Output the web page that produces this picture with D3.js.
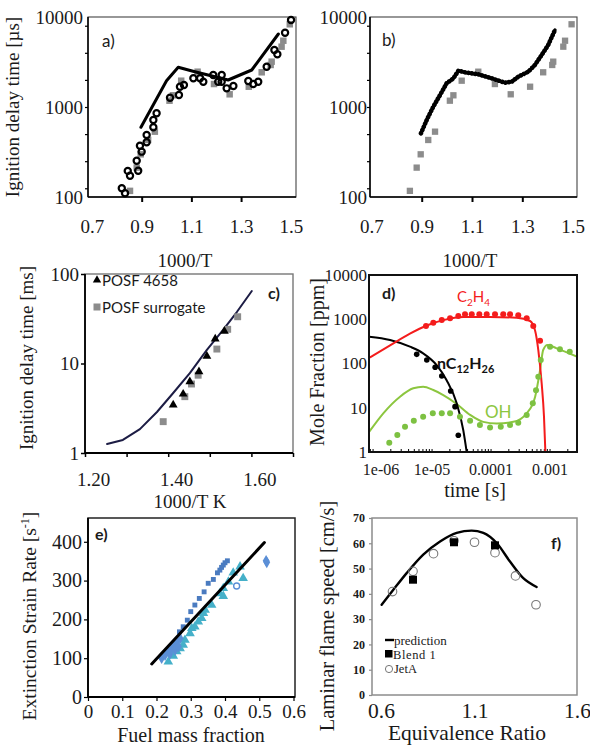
<!DOCTYPE html>
<html><head><meta charset="utf-8">
<script src="https://cdn.jsdelivr.net/npm/d3@7"></script>
<style>body{margin:0;background:#fff}svg{display:block}</style>
</head><body>
<script>
// ================= DATA =================
// a) and b): ignition delay time [µs] vs 1000/T
const abTickX = [0.7, 0.9, 1.1, 1.3, 1.5];
const abTickMarks = [0.9, 1.1, 1.3];
const abTickY = [100, 1000, 10000];
const abMinorY = [125, 250, 500, 1000, 2000, 4000, 8000];
// gray squares (experiment, both panels)
const expX = [0.853,0.880,0.896,0.926,0.953,1.012,1.026,1.059,1.125,1.191,1.254,1.331,1.383,1.419,1.423,1.463,1.470,1.496];
const expY = [117,212,298,430,532,1175,1349,1960,2467,1800,1384,1680,2430,2930,3190,4680,5450,8300];
// a) open circles
const aCircX = [0.820,0.833,0.844,0.853,0.880,0.886,0.893,0.900,0.920,0.920,0.947,0.947,0.960,1.014,1.050,1.054,1.070,1.108,1.135,1.148,1.188,1.208,1.222,1.222,1.242,1.269,1.329,1.349,1.369,1.403,1.434,1.446,1.477,1.501];
const aCircY = [125,110,195,172,253,196,371,319,489,405,595,717,851,1268,1360,1682,1756,2083,2083,1910,2268,1910,2268,1910,1612,1711,1945,1802,1910,2805,4300,3852,6693,9268];
// a) model line
const aModelX = [0.897,1.000,1.047,1.114,1.248,1.343,1.450];
const aModelY = [595,1960,2762,2467,1995,2577,6471];
// b) model (dense)
const bModelX = [0.897,0.920,0.946,0.973,0.999,1.026,1.046,1.072,1.125,1.178,1.231,1.258,1.284,1.324,1.350,1.377,1.403,1.430];
const bModelY = [510,717,1008,1360,1833,2083,2533,2427,2307,2083,1862,1910,2172,2467,2930,3780,4886,7170];

// c) ignition delay time [ms] vs 1000/T K
const cTickX = [1.2, 1.4, 1.6];
const cTickMarks = [1.2, 1.3, 1.4, 1.5, 1.6, 1.7];
const cTickY = [1, 10, 100];
const cLineX = [1.253,1.291,1.332,1.373,1.412,1.452,1.493,1.532,1.565,1.601];
const cLineY = [1.26,1.40,1.85,2.87,4.68,7.8,14.2,23.7,37.6,64.6];
const cPosfX = [1.412,1.436,1.452,1.474,1.493,1.513,1.535];
const cPosfY = [3.44,4.56,6.26,8.1,12.1,18.8,23.0];
const cSurX = [1.388,1.440,1.456,1.472,1.517,1.543,1.567];
const cSurY = [2.24,4.26,5.9,7.4,14.5,24.1,33.3];

// d) mole fraction [ppm] vs time [s]
const dTickX = [1e-6, 1e-5, 1e-4, 1e-3];
const dTickLabels = ['1e-06', '1e-05', '0.0001', '0.001'];
const dTickY = [1, 10, 100, 1000, 10000];
const c2h4LineX = [9.06e-7,1.98e-6,4.3e-6,8.3e-6,1.58e-5,3.45e-5,9.8e-5,2.77e-4,4.67e-4,5.67e-4,6.45e-4,7.36e-4,8.05e-4,8.5e-4];
const c2h4LineY = [138,257,473,724,955,1122,1122,1084,912,562,200,35,6.3,1];
const c2h4DotX = [8.05e-6,1.07e-5,1.49e-5,2.06e-5,2.84e-5,3.69e-5,4.8e-5,6.45e-5,8.6e-5,1.19e-4,1.64e-4,2.14e-4,2.95e-4,4.1e-4,5.3e-4,6.9e-4];
const c2h4DotY = [703,836,961,1050,1184,1294,1294,1294,1294,1294,1294,1294,1230,1050,703,327];
const dodLineX = [8.8e-7,1.98e-6,4.3e-6,7.2e-6,1.22e-5,1.8e-5,2.67e-5,3.45e-5,3.94e-5];
const dodLineY = [403,340,240,170,92,42,12.6,3.1,1];
const dodDotX = [5.6e-6,8.3e-6,1.15e-5,1.49e-5,2.11e-5,2.5e-5,2.84e-5];
const dodDotY = [161,120,82,52,24,10.6,2.4];
const ohLineX = [8.8e-7,1.52e-6,2.92e-6,4.9e-6,7.2e-6,1.07e-5,1.58e-5,2.67e-5,4.5e-5,7.5e-5,1.27e-4,2.43e-4,4.1e-4,5.7e-4,6.9e-4,7.8e-4,9.2e-4,1.32e-3,2.9e-3];
const ohLineY = [2.88,7.5,17.8,27.5,29.9,25.2,19.4,12.2,6.9,4.8,4.4,4.8,7.5,17.8,71,202,262,220,143];
const ohDotX = [1.92e-6,2.63e-6,3.55e-6,5.0e-6,7.2e-6,1.05e-5,1.49e-5,2.06e-5,3.03e-5,4.5e-5,6.6e-5,9.8e-5,1.49e-4,2.14e-4,2.95e-4,4.1e-4,5.2e-4,5.9e-4,6.45e-4,7.1e-4,1.02e-3,1.5e-3,2.2e-3];
const ohDotY = [1.62,2.42,3.73,5.1,6.3,7.5,7.5,7.5,6.3,5.1,4.1,3.6,3.73,4.1,4.6,6.9,12.6,25,50,120,240,210,185];

// e) extinction strain rate vs fuel mass fraction
const eTickX = [0, 0.1, 0.2, 0.3, 0.4, 0.5, 0.6];
const eTickY = [0, 100, 200, 300, 400];
const eLineX = [0.186, 0.515];
const eLineY = [85, 398];
const eSqX = [0.267,0.278,0.290,0.300,0.312,0.325,0.339,0.351,0.366,0.378,0.385,0.390,0.395,0.400,0.407];
const eSqY = [168,181,198,220,237,254,271,293,303,320,327,334,340,346,351];
const eTriX = [0.2345,0.249,0.259,0.269,0.278,0.283,0.298,0.303,0.312,0.322,0.332,0.337,0.342,0.361,0.385,0.395,0.410,0.424,0.444,0.395,0.453];
const eTriY = [91,106,117,125,134,147,164,177,181,194,203,216,224,237,267,280,297,320,336,260,306];
const eDiaX = [0.215,0.225,0.234,0.239,0.244,0.249,0.254,0.259,0.264,0.269,0.520,0.522];
const eDiaY = [100,108,117,111,125,134,121,143,130,151,351,347];
const eOpenX = [0.434];
const eOpenY = [286];

// f) laminar flame speed vs equivalence ratio
const fTickX = [0.6, 1.1, 1.6];
const fTickY = [0, 10, 20, 30, 40, 50, 60, 70];
const fPredX = [0.647,0.704,0.769,0.850,0.932,1.013,1.086,1.143,1.208,1.273,1.338,1.403];
const fPredY = [35.7,41.6,48.2,55.5,60.7,64.1,65.0,64.1,60.1,52.8,46.2,42.7];
const fBlendX = [0.80, 1.00, 1.20];
const fBlendY = [45.6, 60.4, 59.2];
const fJetX = [0.70, 0.80, 0.90, 1.00, 1.10, 1.20, 1.30, 1.40];
const fJetY = [40.9, 48.9, 55.9, 61.0, 60.4, 56.3, 47.1, 35.7];

// ================= DRAWING =================
const SERIF = '"Liberation Serif","Times New Roman",serif';
const SANS = 'Lato,"Open Sans",sans-serif';
const svg = d3.select('body').append('svg').attr('width', 590).attr('height', 746);

function rect(x0, y0, x1, y1, stroke, sw) {
  svg.append('rect').attr('x', x0).attr('y', y0).attr('width', x1 - x0).attr('height', y1 - y0)
    .attr('fill', 'none').attr('stroke', stroke).attr('stroke-width', sw);
}
function hline(x0, x1, y, stroke, sw) {
  svg.append('line').attr('x1', x0).attr('x2', x1).attr('y1', y).attr('y2', y).attr('stroke', stroke).attr('stroke-width', sw);
}
function vline(x, y0, y1, stroke, sw) {
  svg.append('line').attr('x1', x).attr('x2', x).attr('y1', y0).attr('y2', y1).attr('stroke', stroke).attr('stroke-width', sw);
}
function axis(gen, tx, ty, fs, opts) {
  opts = opts || {};
  const g = svg.append('g').attr('transform', `translate(${tx},${ty})`).call(gen)
    .attr('font-family', SERIF).attr('font-size', fs);
  g.select('.domain').remove();
  g.selectAll('line').attr('stroke', opts.tickColor || '#000').attr('stroke-width', opts.tickWidth || 1.2);
  g.selectAll('text').attr('font-family', SERIF).attr('font-size', fs).attr('fill', opts.color || '#1a1a1a')
    .attr('font-weight', opts.weight || 'normal');
  return g;
}
function pts(xs, ys) { return xs.map((x, i) => [x, ys[i]]); }
function line(xs, ys, X, Y, color, w, curve, clip) {
  const p = svg.append('path').datum(pts(xs, ys))
    .attr('d', d3.line().x(d => X(d[0])).y(d => Y(d[1])).curve(curve || d3.curveLinear))
    .attr('fill', 'none').attr('stroke', color).attr('stroke-width', w)
    .attr('stroke-linejoin', 'round').attr('stroke-linecap', 'round');
  if (clip) p.attr('clip-path', clip);
  return p;
}
function syms(xs, ys, X, Y, type, size, fill, stroke, sw) {
  svg.append('g').selectAll('path').data(pts(xs, ys)).join('path')
    .attr('transform', d => `translate(${X(d[0])},${Y(d[1])})`)
    .attr('d', d3.symbol().type(type).size(size))
    .attr('fill', fill).attr('stroke', stroke || 'none').attr('stroke-width', sw || 0);
}
function circles(xs, ys, X, Y, r, fill, stroke, sw) {
  svg.append('g').selectAll('circle').data(pts(xs, ys)).join('circle')
    .attr('cx', d => X(d[0])).attr('cy', d => Y(d[1])).attr('r', r)
    .attr('fill', fill).attr('stroke', stroke || 'none').attr('stroke-width', sw || 0);
}
function text(x, y, s, fs, opts) {
  opts = opts || {};
  return svg.append('text').attr('x', x).attr('y', y).text(s)
    .attr('font-family', opts.family || SERIF).attr('font-size', fs)
    .attr('fill', opts.color || '#1a1a1a').attr('font-weight', opts.weight || 'normal')
    .attr('text-anchor', opts.anchor || 'start');
}
function ylabel(x, y, s, fs) {
  return svg.append('text').attr('transform', `translate(${x},${y}) rotate(-90)`)
    .attr('text-anchor', 'middle').attr('font-family', SERIF).attr('font-size', fs)
    .attr('fill', '#1a1a1a').text(s);
}

// ---------- panel a ----------
{
  const X = d3.scaleLinear().domain([0.684, 1.521]).range([88, 296]);
  const Y = d3.scaleLog().domain([100, 10000]).range([197, 17]);
  rect(88, 17, 296, 197, '#444', 1.1);
  vline(88, 17, 197, '#000', 1.5); hline(88, 296, 197, '#000', 1.5);
  axis(d3.axisBottom(X).tickValues(abTickMarks).tickSize(5).tickFormat(''), 0, 197, 19, {tickWidth: 2});
  axis(d3.axisBottom(X).tickValues(abTickX).tickSize(0).tickPadding(23).tickFormat(d3.format('.1f')), 0, 197, 19);
  axis(d3.axisLeft(Y).tickValues(abMinorY).tickSize(3).tickFormat(''), 88, 0, 19);
  axis(d3.axisLeft(Y).tickValues(abTickY).tickSize(0).tickPadding(5).tickFormat(d3.format('d')), 88, 0, 19);
  syms(expX, expY, X, Y, d3.symbolSquare, 42, '#8c8c8c');
  line(aModelX, aModelY, X, Y, '#000', 3);
  circles(aCircX, aCircY, X, Y, 3.1, 'none', '#000', 2.2);
  text(102, 47, 'a)', 17, {family: SANS});
  ylabel(19, 107, 'Ignition delay time [µs]', 19);
  text(185, 267, '1000/T', 19, {anchor: 'middle'});
}
// ---------- panel b ----------
{
  const X = d3.scaleLinear().domain([0.6944, 1.5175]).range([370, 577]);
  const Y = d3.scaleLog().domain([100, 10000]).range([197, 17]);
  rect(370, 17, 577, 197, '#444', 1.1);
  vline(370, 17, 197, '#000', 1.5); hline(370, 577, 197, '#000', 1.5);
  axis(d3.axisBottom(X).tickValues(abTickMarks).tickSize(5).tickFormat(''), 0, 197, 19, {tickWidth: 2});
  axis(d3.axisBottom(X).tickValues(abTickX).tickSize(0).tickPadding(23).tickFormat(d3.format('.1f')), 0, 197, 19);
  axis(d3.axisLeft(Y).tickValues(abMinorY).tickSize(3).tickFormat(''), 370, 0, 19);
  axis(d3.axisLeft(Y).tickValues(abTickY).tickSize(0).tickPadding(3).tickFormat(d3.format('d')), 370, 0, 19);
  syms(expX, expY, X, Y, d3.symbolSquare, 40, '#8c8c8c');
  line(bModelX, bModelY, X, Y, '#000', 3.2);
  line(bModelX, bModelY, X, Y, '#000', 4.6).attr('stroke-dasharray', '0.1 3.4');
  text(382, 46, 'b)', 17, {family: SANS});
  text(470, 267, '1000/T', 19, {anchor: 'middle'});
}
// ---------- panel c ----------
{
  const X = d3.scaleLinear().domain([1.2, 1.7]).range([85, 293]);
  const Y = d3.scaleLog().domain([1, 100]).range([453, 274]);
  rect(85, 274, 293, 453, '#777', 1.4);
  vline(85, 274, 453, '#000', 1.8); hline(85, 293, 453, '#000', 1.8);
  axis(d3.axisBottom(X).tickValues(cTickMarks).tickSize(4).tickFormat(''), 0, 453, 19, {tickWidth: 1.5});
  axis(d3.axisBottom(X).tickValues(cTickX).tickSize(0).tickPadding(20).tickFormat(d3.format('.2f')), 0, 453, 19)
    .selectAll('text').attr('dx', 8);
  axis(d3.axisLeft(Y).tickValues(cTickY).tickSize(4).tickPadding(2).tickFormat(d3.format('d')), 85, 0, 19, {tickWidth: 1.5});
  line(cLineX, cLineY, X, Y, '#1c1c44', 2);
  syms(cSurX, cSurY, X, Y, d3.symbolSquare, 48, '#8c8c8c');
  syms(cPosfX, cPosfY, X, Y, d3.symbolTriangle, 34, '#000');
  // legend
  svg.append('path').attr('transform', 'translate(97,280)').attr('d', d3.symbol().type(d3.symbolTriangle).size(30)).attr('fill', '#000');
  svg.append('rect').attr('x', 93.5).attr('y', 303.5).attr('width', 7).attr('height', 7).attr('fill', '#8c8c8c');
  text(102, 286, 'POSF 4658', 15, {family: SANS});
  text(102, 313, 'POSF surrogate', 15, {family: SANS});
  text(268, 299, 'c)', 16, {family: SANS, weight: 'bold'});
  ylabel(33, 358, 'Ignition delay time [ms]', 19);
  text(190, 508, '1000/T K', 19, {anchor: 'middle'});
}
// ---------- panel d ----------
{
  const X = d3.scaleLog().domain([8.7e-7, 2.92e-3]).range([369, 577]);
  const Y = d3.scaleLog().domain([1, 10000]).range([452, 275]);
  svg.append('clipPath').attr('id', 'clipD').append('rect').attr('x', 369).attr('y', 275).attr('width', 208).attr('height', 177);
  axis(d3.axisBottom(X).tickValues(X.ticks()).tickSize(-3).tickFormat(''), 0, 452, 16, {tickWidth: 1});
  const gx = axis(d3.axisBottom(X).tickValues(dTickX).tickSize(0).tickPadding(12).tickFormat((d, i) => dTickLabels[i]), 0, 452, 16);
  gx.selectAll('text').filter((d, i) => i === 0).attr('dx', 8);
  axis(d3.axisLeft(Y).tickValues(dTickY).tickSize(0).tickPadding(2).tickFormat(d3.format('d')), 369, 0, 17);
  line(ohLineX, ohLineY, X, Y, '#8cc63f', 2, d3.curveMonotoneX, 'url(#clipD)');
  line(dodLineX, dodLineY, X, Y, '#000', 2, d3.curveMonotoneX, 'url(#clipD)');
  line(c2h4LineX, c2h4LineY, X, Y, '#f41c1c', 2, d3.curveMonotoneX, 'url(#clipD)');
  circles(ohDotX, ohDotY, X, Y, 3, '#7dc142');
  circles(dodDotX, dodDotY, X, Y, 2.8, '#000');
  circles(c2h4DotX, c2h4DotY, X, Y, 3, '#f41c1c');
  rect(369, 275, 577, 452, '#111', 2);
  text(382, 299, 'd)', 16, {family: SANS, weight: 'bold'});
  const t1 = text(457, 302, 'C', 15, {family: SANS, color: '#f41c1c'});
  t1.append('tspan').attr('dy', 4).attr('font-size', 10).text('2');
  t1.append('tspan').attr('dy', -4).text('H');
  t1.append('tspan').attr('dy', 4).attr('font-size', 10).text('4');
  const t2 = text(437, 369, 'nC', 16, {family: SANS, color: '#111', weight: 'bold'});
  t2.append('tspan').attr('dy', 4).attr('font-size', 11).text('12');
  t2.append('tspan').attr('dy', -4).text('H');
  t2.append('tspan').attr('dy', 4).attr('font-size', 11).text('26');
  text(485, 418, 'OH', 17, {family: SANS, color: '#8cc63f'});
  ylabel(324, 362, 'Mole Fraction [ppm]', 20);
  text(475, 497, 'time [s]', 20, {anchor: 'middle'});
}
// ---------- panel e ----------
{
  const X = d3.scaleLinear().domain([0, 0.6]).range([88, 293.5]);
  const Y = d3.scaleLinear().domain([0, 460]).range([697, 518.5]);
  rect(88, 518, 295, 697, '#222', 1.5);
  vline(88, 518, 697, '#000', 1.8); hline(88, 295, 697, '#000', 1.8);
  axis(d3.axisBottom(X).tickValues(eTickX).tickSize(4).tickPadding(4).tickFormat(d => d === 0 ? '0' : d.toFixed(1)), 0, 697, 19, {tickWidth: 1.2});
  axis(d3.axisLeft(Y).tickValues(eTickY).tickSize(4).tickPadding(2).tickFormat(d3.format('d')), 88, 0, 20, {tickWidth: 1.2});
  syms(eTriX, eTriY, X, Y, d3.symbolTriangle, 40, '#45b0c9');
  syms(eDiaX, eDiaY, X, Y, d3.symbolDiamond, 40, '#5b8fd6');
  syms(eSqX, eSqY, X, Y, d3.symbolSquare, 24, '#4a7bc0');
  circles(eOpenX, eOpenY, X, Y, 3, 'none', '#5b8fd6', 1.4);
  line(eLineX, eLineY, X, Y, '#000', 3);
  text(95, 540, 'e)', 16, {family: SANS, weight: 'bold'});
  const yl = ylabel(36, 616, 'Extinction Strain Rate [s', 19.5);
  yl.append('tspan').attr('dy', -7).attr('font-size', 12).text('-1');
  yl.append('tspan').attr('dy', 7).text(']');
  text(191, 742, 'Fuel mass fraction', 20, {anchor: 'middle'});
}
// ---------- panel f ----------
{
  const X = d3.scaleLinear().domain([0.6, 1.6]).range([372, 577]);
  const Y = d3.scaleLinear().domain([0, 70]).range([695, 518]);
  rect(372, 518, 577, 695, '#8c8c8c', 1.5);
  axis(d3.axisLeft(Y).tickValues(fTickY).tickSize(3).tickPadding(4).tickFormat(d3.format('d')), 372, 0, 12, {tickColor: '#8c8c8c', weight: 'bold'});
  const gfx = axis(d3.axisBottom(X).tickValues(fTickX).tickSize(0).tickPadding(8).tickFormat(d3.format('.1f')), 0, 695, 21.5);
  gfx.selectAll('text').filter((d, i) => i === 0).attr('dx', 9);
  line(fPredX, fPredY, X, Y, '#000', 2.4, d3.curveMonotoneX);
  circles(fJetX, fJetY, X, Y, 4.3, 'none', '#777', 1.1);
  syms(fBlendX, fBlendY, X, Y, d3.symbolSquare, 64, '#000');
  // legend
  hline(385, 394, 640, '#000', 2.4);
  text(394, 644.5, 'prediction', 13);
  svg.append('rect').attr('x', 385).attr('y', 650).attr('width', 7.5).attr('height', 7.5).attr('fill', '#000');
  text(393, 659, 'Blend 1', 12.5).attr('letter-spacing', 0.6);
  svg.append('circle').attr('cx', 389).attr('cy', 669).attr('r', 3.6).attr('fill', 'none').attr('stroke', '#777').attr('stroke-width', 1);
  text(394, 673, 'JetA', 12.5);
  text(551, 549, 'f)', 16, {family: SANS, weight: 'bold'});
  ylabel(334, 616, 'Laminar flame speed [cm/s]', 20.5);
  text(467, 740, 'Equivalence Ratio', 21.5, {anchor: 'middle'});
}
</script>
</body></html>
